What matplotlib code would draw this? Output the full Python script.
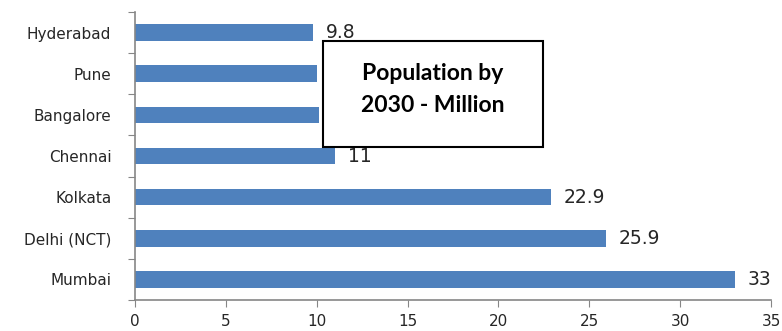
import numpy as np
import matplotlib
matplotlib.use("Agg")
import matplotlib.pyplot as plt
from matplotlib.patches import Rectangle

cities = ["Mumbai", "Delhi (NCT)", "Kolkata", "Chennai", "Bangalore", "Pune", "Hyderabad"]
population = [33, 25.9, 22.9, 11, 10.1, 10.0, 9.8]
# Pune and Bangalore labels sit behind the title box in the original
labels = ["33", "25.9", "22.9", "11", "", "", "9.8"]
x_ticks = [0, 5, 10, 15, 20, 25, 30, 35]

BAR = "#4F81BD"
AXIS = "#868686"
TXT = "#262626"

fig = plt.figure(figsize=(7.82, 3.31), dpi=100)
ax = fig.add_axes([0.1726, 0.0937, 0.8135, 0.870])

y = np.arange(len(cities))
ax.barh(y, population, height=0.4, color=BAR, zorder=2)

for yi, v, t in zip(y, population, labels):
    if t:
        ax.text(v + 0.7, yi, t, va="center", ha="left", fontsize=13.5,
                color=TXT, family="DejaVu Sans", zorder=3)

ax.set_xlim(0, 35)
ax.set_ylim(-0.5, len(cities) - 0.5)
ax.set_xticks(x_ticks)
ax.set_xticklabels([str(v) for v in x_ticks], fontsize=11, color=TXT)

# category ticks between bars, labels in the middle
ax.set_yticks(np.arange(-0.5, len(cities), 1.0))
ax.set_yticklabels([])
ax.set_yticks(y, minor=True)
ax.set_yticklabels(cities, minor=True, fontsize=11, color=TXT)
ax.tick_params(axis="y", which="minor", length=0, pad=17)
ax.tick_params(axis="y", which="major", length=5, color=AXIS, direction="out")
ax.tick_params(axis="x", length=5, color=AXIS, direction="out", pad=5)

for s in ["top", "right"]:
    ax.spines[s].set_visible(False)
for s in ["left", "bottom"]:
    ax.spines[s].set_color(AXIS)
    ax.spines[s].set_linewidth(1.2)

# title box
x0, y0 = 323 / 782, 1 - 147 / 331
w, h = 220 / 782, 106 / 331
fig.patches.append(Rectangle((x0, y0), w, h, transform=fig.transFigure,
                             facecolor="white", edgecolor="black",
                             linewidth=1.5, zorder=10))
fig.text(x0 + w / 2, 1 - 73 / 331, "Population by", ha="center", va="center",
         fontsize=16.5, fontweight="bold", family="Lato", color="black", zorder=11)
fig.text(x0 + w / 2, 1 - 106 / 331, "2030 - Million", ha="center", va="center",
         fontsize=16.5, fontweight="bold", family="Lato", color="black", zorder=11)

fig.savefig("out.png", dpi=100)
